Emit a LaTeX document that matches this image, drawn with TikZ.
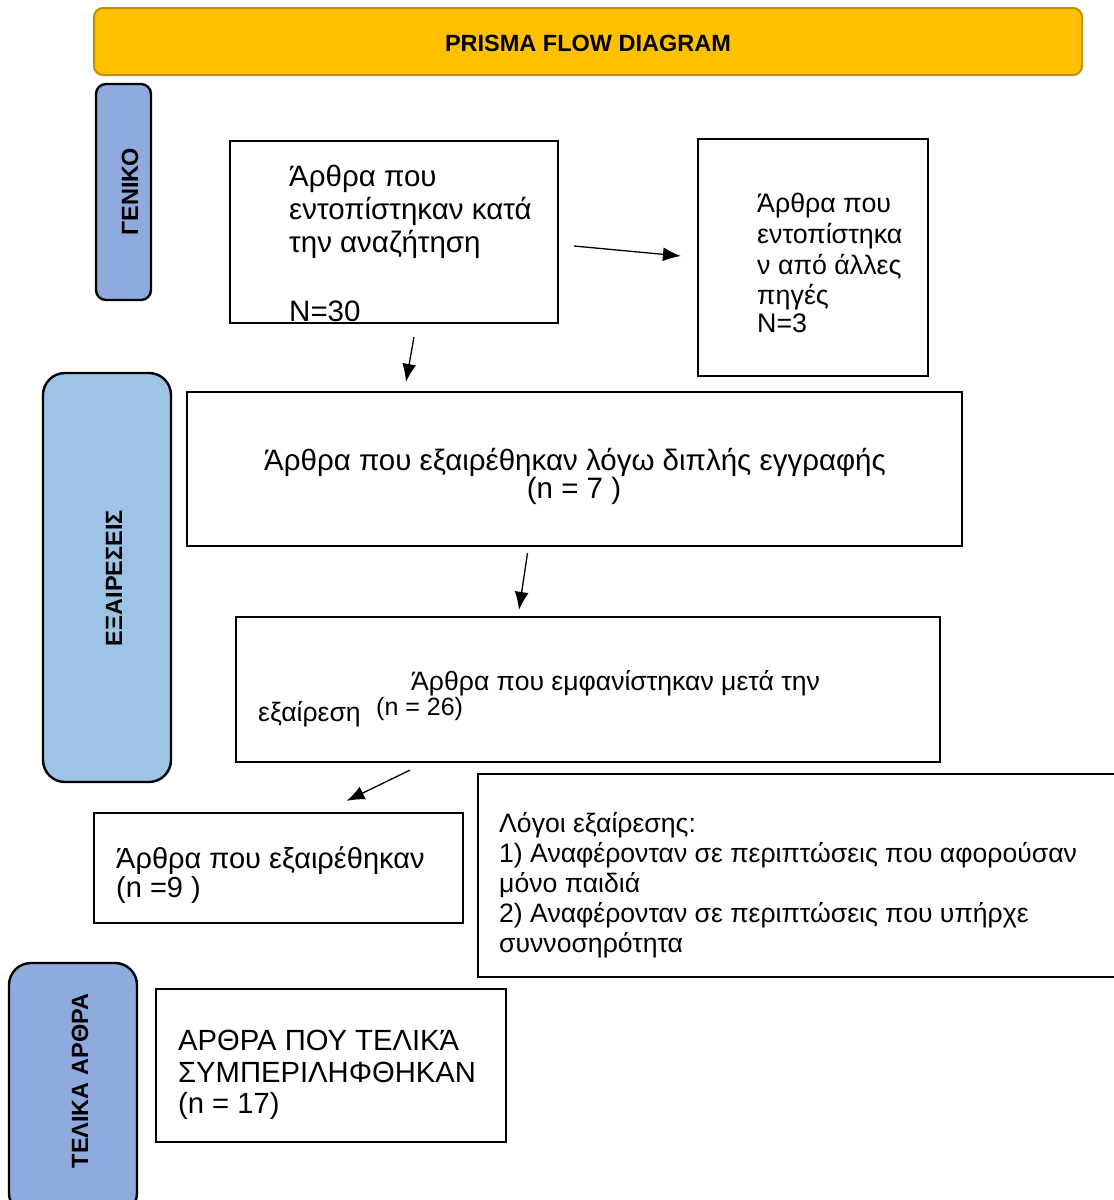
\documentclass[tikz,border=0pt]{standalone}
\usepackage{fontspec}
\setmainfont{Liberation Sans}
\usetikzlibrary{arrows.meta}
\definecolor{gold}{HTML}{FFC000}
\definecolor{goldline}{HTML}{BF9000}
\definecolor{sideblue}{HTML}{8FAADC}
\definecolor{sidelight}{HTML}{9DC3E6}
\tikzset{
  box/.style={draw=black, line width=2.2pt},
  side/.style={draw=black, line width=2.4pt, rounded corners=10pt},
  sidetext/.style={rotate=90, font=\bfseries\fontsize{23.5}{26}\selectfont, inner sep=0pt},
  txt/.style={anchor=base west, inner sep=0pt},
  arr/.style={line width=1.3pt, -{Latex[length=18pt,width=14pt]}},
}
\begin{document}
\begin{tikzpicture}[x=1pt,y=-1pt]
\useasboundingbox (0,0) rectangle (1114,1200);
% title
\draw[fill=gold, draw=goldline, line width=2pt, rounded corners=9pt] (94,8) rectangle (1082,75);
\node[font=\bfseries\fontsize{23.5}{26}\selectfont] (title) at (588,43) {PRISMA FLOW DIAGRAM};
% side labels
\draw[side, fill=sideblue] (96,84) rectangle (151,300);
\node[sidetext] (gen) at (130,192) {ΓΕΝΙΚΟ};
\draw[side, fill=sidelight, rounded corners=22pt] (43,373) rectangle (171,782);
\node[sidetext] (exc) at (114,578) {ΕΞΑΙΡΕΣΕΙΣ};
\draw[side, fill=sideblue, rounded corners=22pt] (9,963) rectangle (137,1215);
\node[sidetext] (fin) at (80,1081) {ΤΕΛΙΚΑ ΑΡΘΡΑ};
% boxes
\node[box, minimum width=328pt, minimum height=182pt, inner sep=0pt] (b1) at (394,232) {};
\node[box, minimum width=230pt, minimum height=237pt, inner sep=0pt] (b2) at (813,257.5) {};
\node[box, minimum width=775pt, minimum height=154pt, inner sep=0pt] (b3) at (574.5,469) {};
\node[box, minimum width=704pt, minimum height=145pt, inner sep=0pt] (b4) at (588,689.5) {};
\node[box, minimum width=369pt, minimum height=110pt, inner sep=0pt] (b5) at (278.5,868) {};
\draw[box] (1125,774) -- (478,774) -- (478,977) -- (1125,977);
\coordinate (b6) at (478,875);
\node[box, minimum width=350pt, minimum height=153pt, inner sep=0pt] (b7) at (331,1065.5) {};
% texts
\begin{scope}[font=\fontsize{29.5}{33}\selectfont]
\node[txt] (t1a) at (289,186) {Άρθρα που};
\node[txt] (t1b) at (289,219) {εντοπίστηκαν κατά};
\node[txt] (t1c) at (289,252) {την αναζήτηση};
\node[txt] (t1d) at (289,321) {N=30};
\end{scope}
\begin{scope}[font=\fontsize{26.8}{30}\selectfont]
\node[txt] (t2a) at (757,212) {Άρθρα που};
\node[txt] (t2b) at (757,243) {εντοπίστηκα};
\node[txt] (t2c) at (757,274) {ν από άλλες};
\node[txt] (t2d) at (757,304) {πηγές};
\node[txt] (t2e) at (757,332) {N=3};
\end{scope}
\begin{scope}[font=\fontsize{29.5}{33}\selectfont]
\node[anchor=base, inner sep=0pt] (t3a) at (575,470) {Άρθρα που εξαιρέθηκαν λόγω διπλής εγγραφής};
\node[anchor=base, inner sep=0pt] (t3b) at (574,498) {(n = 7 )};
\end{scope}
\begin{scope}[font=\fontsize{26.6}{30}\selectfont]
\node[txt] (t4a) at (411,690) {Άρθρα που εμφανίστηκαν μετά την};
\node[txt] (t4b) at (258,721) {εξαίρεση};
\node[txt, font=\fontsize{25}{28}\selectfont] (t4c) at (376,715) {(n = 26)};
\end{scope}
\begin{scope}[font=\fontsize{29}{33}\selectfont]
\node[txt] (t5a) at (116,868) {Άρθρα που εξαιρέθηκαν};
\node[txt] (t5b) at (116,897) {(n =9 )};
\end{scope}
\begin{scope}[font=\fontsize{26.6}{30}\selectfont]
\node[txt] (t6a) at (499,832) {Λόγοι εξαίρεσης:};
\node[txt] (t6b) at (499,862) {1) Αναφέρονταν σε περιπτώσεις που αφορούσαν};
\node[txt] (t6c) at (499,892) {μόνο παιδιά};
\node[txt] (t6d) at (499,922) {2) Αναφέρονταν σε περιπτώσεις που υπήρχε};
\node[txt] (t6e) at (499,952) {συννοσηρότητα};
\end{scope}
\begin{scope}[font=\fontsize{29.2}{33}\selectfont]
\node[txt] (t7a) at (178,1050) {ΑΡΘΡΑ ΠΟΥ ΤΕΛΙΚΆ};
\node[txt] (t7b) at (178,1082) {ΣΥΜΠΕΡΙΛΗΦΘΗΚΑΝ};
\node[txt] (t7c) at (178,1113) {(n = 17)};
\end{scope}
% arrows
\draw[arr] ([shift={(15,14)}]b1.east) -- ([shift={(-16,-1.5)}]b2.west);
\draw[arr] ([shift={(20,13)}]b1.south) -- ([shift={(-168.5,-9)}]b3.north);
\draw[arr] ([shift={(-47,6)}]b3.south) -- ([shift={(-69,-6)}]b4.north);
\draw[arr] ([shift={(-178,7)}]b4.south) -- ([shift={(68,-11)}]b5.north);
\end{tikzpicture}
\end{document}
